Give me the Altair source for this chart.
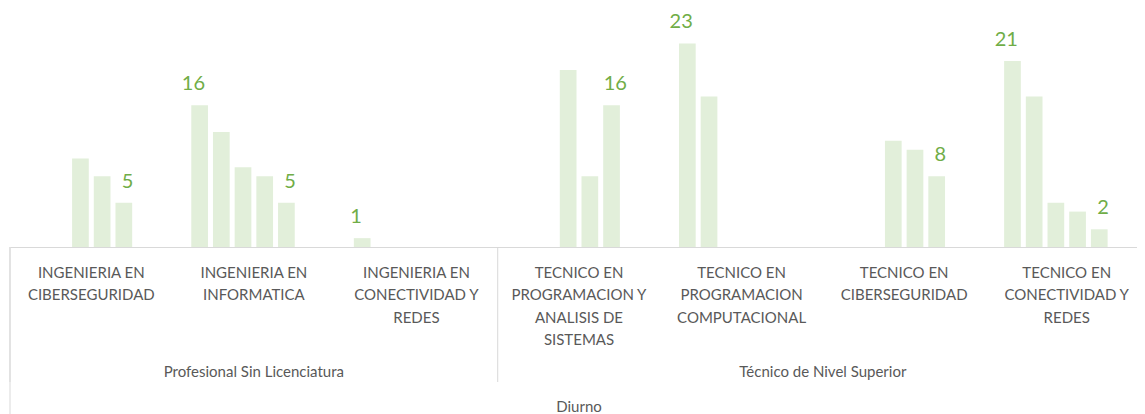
import textwrap
import altair as alt
import pandas as pd

# ---------------- data ----------------
categories = [
    "INGENIERIA EN CIBERSEGURIDAD",
    "INGENIERIA EN INFORMATICA",
    "INGENIERIA EN CONECTIVIDAD Y REDES",
    "TECNICO EN PROGRAMACION Y ANALISIS DE SISTEMAS",
    "TECNICO EN PROGRAMACION COMPUTACIONAL",
    "TECNICO EN CIBERSEGURIDAD",
    "TECNICO EN CONECTIVIDAD Y REDES",
]
series = ["Serie 1", "Serie 2", "Serie 3", "Serie 4", "Serie 5", "Serie 6"]
serie_1 = [None, 16, 1, None, 23, None, 21]
serie_2 = [None, 13, None, None, 17, None, 17]
serie_3 = [10, 9, None, 20, None, 12, 5]
serie_4 = [8, 8, None, 8, None, 11, 4]
serie_5 = [5, 5, None, 16, None, 8, 2]
serie_6 = [None, None, None, None, None, None, None]
labelled_series = ["Serie 1", "Serie 5"]

level2_groups = ["Profesional Sin Licenciatura", "Técnico de Nivel Superior"]
level2_sizes = [3, 4]
level3_groups = ["Diurno"]
level3_sizes = [7]

# ---------------- tables ----------------
wrapped = ["|".join(textwrap.wrap(c, 15)) for c in categories]
values = [serie_1, serie_2, serie_3, serie_4, serie_5, serie_6]
rows = []
for s, vals in zip(series, values):
    for c, v in zip(wrapped, vals):
        if v is not None:
            rows.append({"cat": c, "serie": s, "valor": v})
df = pd.DataFrame(rows)

grp = pd.DataFrame({
    "grupo": level2_groups + level3_groups,
    "n": level2_sizes + level3_sizes,
    "nivel": [2] * len(level2_groups) + [3] * len(level3_groups),
    "orden": list(range(len(level2_groups) + len(level3_groups))),
})

W, H = 1138, 239
FONT = "Lato"
GRAY = "#595959"
LINE = "#D9D9D9"
BAR = "#E2EFDA"
LABEL = "#70AD47"

xscale = alt.Scale(domain=wrapped, paddingInner=0, paddingOuter=0)
xoff = alt.XOffset("serie:N", scale=alt.Scale(domain=series, paddingInner=0.23, paddingOuter=0.862))
yenc = alt.Y("valor:Q", scale=alt.Scale(domain=[0, 27], nice=False, zero=True), axis=None)

base = alt.Chart(df)
bars = base.mark_bar(color=BAR).encode(
    x=alt.X("cat:N", scale=xscale, sort=wrapped,
            axis=alt.Axis(title=None, ticks=False, domainColor=LINE, domainWidth=1,
                          labelExpr="split(datum.label, '|')", labelAngle=0,
                          labelFont=FONT, labelFontSize=15, labelColor=GRAY,
                          labelLineHeight=22.5, labelPadding=18, labelOverlap=False,
                          labelLimit=200)),
    xOffset=xoff,
    y=yenc,
)
labels = base.transform_filter(
    alt.FieldOneOfPredicate(field="serie", oneOf=labelled_series)
).mark_text(baseline="alphabetic", dy=-15, font=FONT, fontSize=20, color=LABEL).encode(
    x=alt.X("cat:N", scale=xscale, sort=wrapped, axis=None),
    xOffset=xoff,
    y=yenc,
    text=alt.Text("valor:Q"),
)

gbase = alt.Chart(grp).transform_window(
    end="sum(n)", groupby=["nivel"], sort=[alt.SortField("orden")], frame=[None, 0]
).transform_calculate(
    start="datum.end - datum.n", center="(datum.end - datum.n + datum.end) / 2"
)
qscale = alt.Scale(domain=[0, len(categories)], nice=False, zero=False)

g2_text = gbase.transform_filter("datum.nivel == 2").mark_text(
    baseline="alphabetic", font=FONT, fontSize=15, color=GRAY
).encode(x=alt.X("center:Q", scale=qscale, axis=None), y=alt.value(H + 130), text="grupo:N")
g3_text = gbase.transform_filter("datum.nivel == 3").mark_text(
    baseline="alphabetic", font=FONT, fontSize=15, color=GRAY
).encode(x=alt.X("center:Q", scale=qscale, axis=None), y=alt.value(H + 165), text="grupo:N")

g2_rule = gbase.transform_filter("datum.nivel == 2").mark_rule(color=LINE, strokeWidth=1).encode(
    x=alt.X("start:Q", scale=qscale, axis=None), y=alt.value(H), y2=alt.value(H + 135))
g3_rule = gbase.transform_filter("datum.nivel == 3").mark_rule(color=LINE, strokeWidth=1).encode(
    x=alt.X("start:Q", scale=qscale, axis=None), y=alt.value(H), y2=alt.value(H + 168))

chart = alt.layer(
    bars, labels, g2_rule, g3_rule, g2_text, g3_text
).resolve_scale(x="independent", xOffset="independent").properties(
    width=W, height=H,
    autosize=alt.AutoSizeParams(type="none"),
    padding={"left": 2, "top": 0, "right": -11, "bottom": 168},
    background="white",
).configure_view(stroke=None)

chart.save("out.html", embed_options={"renderer": "svg", "actions": False})
